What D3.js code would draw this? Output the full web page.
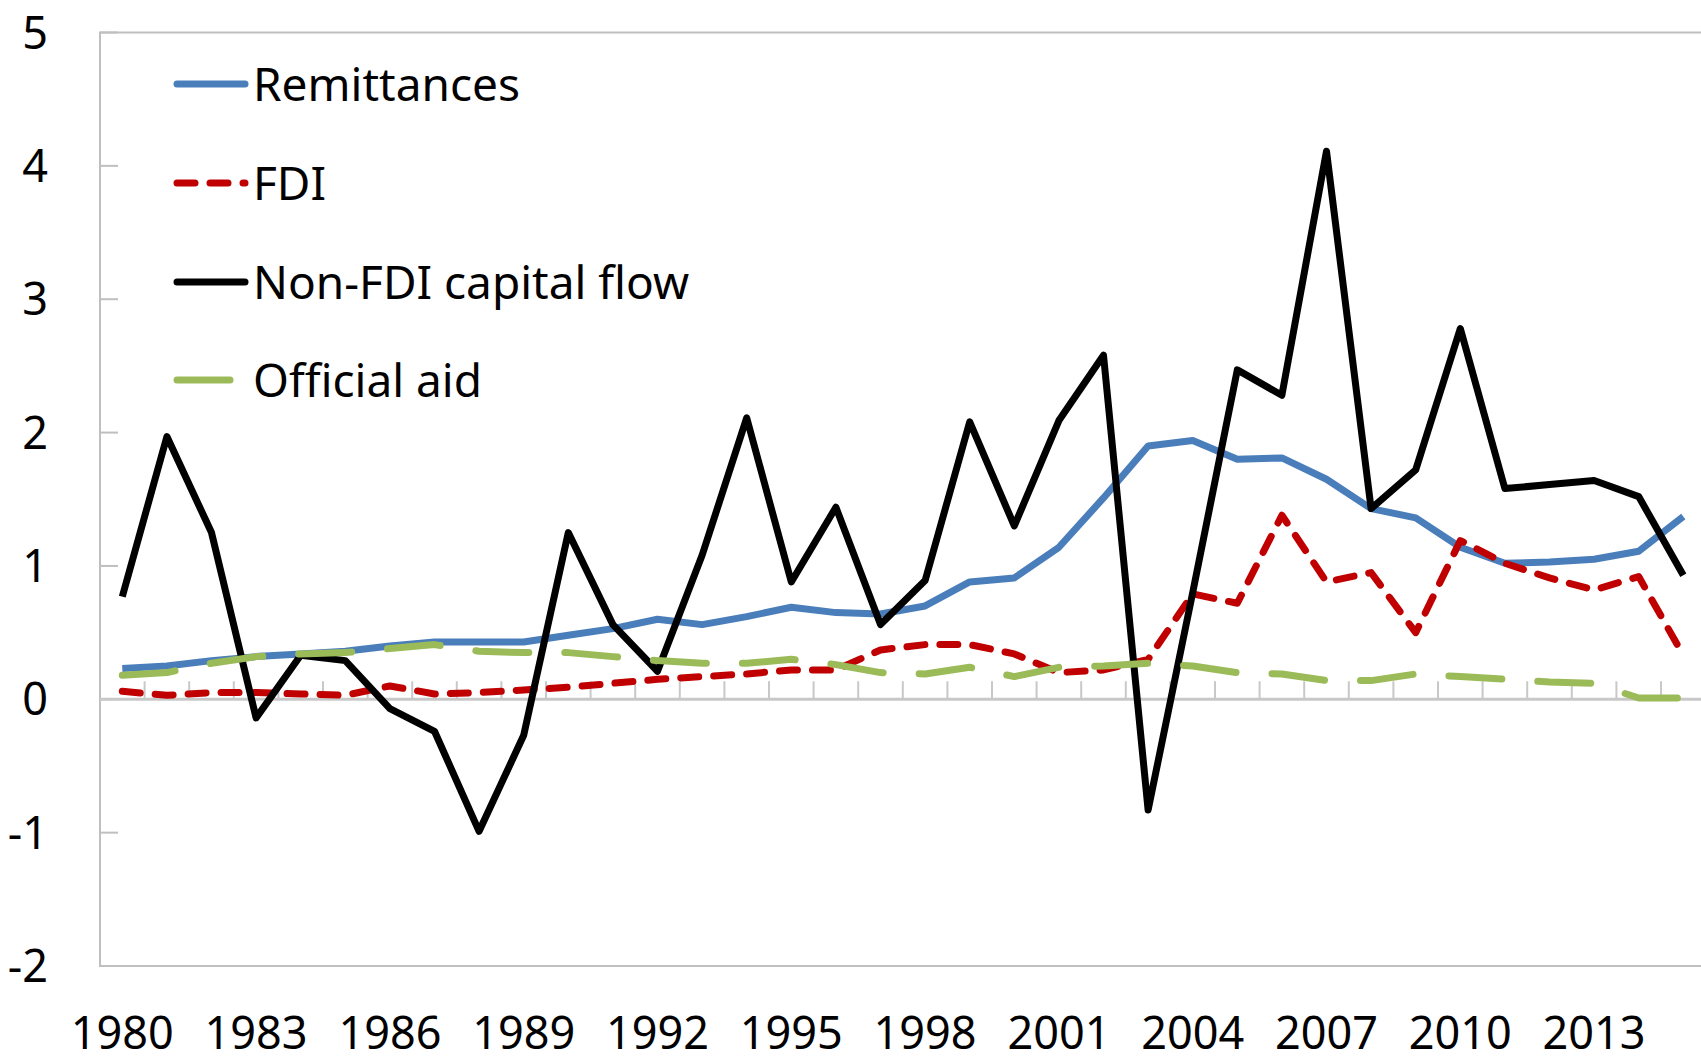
<!DOCTYPE html>
<html>
<head>
<meta charset="utf-8">
<script src="https://cdn.jsdelivr.net/npm/d3@7"></script>
<style>
  body { margin: 0; background: #fff; }
  svg text { font-family: "Noto Sans", sans-serif; fill: #000; }
</style>
</head>
<body>
<div id="chart"></div>
<script>
const years = d3.range(1980, 2016)
const yearLabels = [1980, 1983, 1986, 1989, 1992, 1995, 1998, 2001, 2004, 2007, 2010, 2013]
const yTicks = [-2, -1, 0, 1, 2, 3, 4, 5]

const remittances = [0.23, 0.25, 0.29, 0.32, 0.34, 0.36, 0.40, 0.43, 0.43, 0.43, 0.48, 0.53,
    0.60, 0.56, 0.62, 0.69, 0.65, 0.64, 0.70, 0.88, 0.91, 1.14, 1.51, 1.90,
    1.94, 1.80, 1.81, 1.65, 1.43, 1.36, 1.14, 1.02, 1.03, 1.05, 1.11, 1.37]
const fdi = [0.06, 0.03, 0.05, 0.05, 0.04, 0.03, 0.10, 0.04, 0.05, 0.07, 0.09, 0.12,
    0.15, 0.17, 0.19, 0.22, 0.22, 0.37, 0.41, 0.41, 0.34, 0.20, 0.22, 0.30,
    0.79, 0.72, 1.38, 0.88, 0.95, 0.50, 1.19, 1.02, 0.91, 0.82, 0.92, 0.33]
const nonFdi = [0.77, 1.97, 1.25, -0.14, 0.33, 0.29, -0.07, -0.24, -0.99, -0.27, 1.25, 0.56,
    0.21, 1.08, 2.11, 0.88, 1.44, 0.56, 0.89, 2.08, 1.30, 2.09, 2.58, -0.83,
    0.80, 2.47, 2.28, 4.11, 1.43, 1.72, 2.78, 1.58, 1.61, 1.64, 1.52, 0.93]
const officialAid = [0.18, 0.20, 0.27, 0.32, 0.34, 0.35, 0.38, 0.41, 0.36, 0.35, 0.35, 0.32,
    0.29, 0.27, 0.27, 0.30, 0.26, 0.20, 0.19, 0.24, 0.17, 0.24, 0.25, 0.27,
    0.25, 0.20, 0.19, 0.14, 0.14, 0.19, 0.17, 0.15, 0.13, 0.12, 0.01, 0.01]

const series = [
    { name: "Remittances", values: remittances, color: "#4A7EBB", dash: null },
    { name: "FDI", values: fdi, color: "#C00000", dash: "18,15" },
    { name: "Non-FDI capital flow", values: nonFdi, color: "#000000", dash: null },
    { name: "Official aid", values: officialAid, color: "#9BBB59", dash: "53,36" }
]

const width = 1701
const height = 1061
const plotLeft = 100
const plotTop = 32.5
const plotW = 44.6 * years.length
const plotH = 933.5
const lineW = 7

const svg = d3.select("#chart")
    .append("svg")
    .attr("width", width)
    .attr("height", height)

const x = d3.scaleBand()
    .domain(years)
    .range([plotLeft, plotLeft + plotW])
    .paddingInner(0)
    .paddingOuter(0)

const y = d3.scaleLinear()
    .domain([-2, 5])
    .range([plotTop + plotH, plotTop])

const cx = d => x(d) + x.bandwidth() / 2

// frame of the plot area
svg.append("rect")
    .attr("x", plotLeft)
    .attr("y", plotTop)
    .attr("width", plotW)
    .attr("height", plotH)
    .attr("fill", "none")
    .attr("stroke", "#BFBFBF")
    .attr("stroke-width", 2)

// y ticks, pointing inward
svg.append("g")
    .selectAll("line")
    .data(yTicks)
    .join("line")
    .attr("x1", plotLeft)
    .attr("x2", plotLeft + 18)
    .attr("y1", d => y(d))
    .attr("y2", d => y(d))
    .attr("stroke", "#BFBFBF")
    .attr("stroke-width", 2)

svg.append("g")
    .selectAll("text")
    .data(yTicks)
    .join("text")
    .attr("x", 48)
    .attr("y", d => y(d))
    .attr("dy", "0.36em")
    .attr("text-anchor", "end")
    .style("font-size", "45px")
    .text(d => d)

// horizontal axis at zero, with ticks between the years
const zero = y(0)
svg.append("line")
    .attr("x1", plotLeft)
    .attr("x2", plotLeft + plotW)
    .attr("y1", zero)
    .attr("y2", zero)
    .attr("stroke", "#C8C8C8")
    .attr("stroke-width", 3)

svg.append("g")
    .selectAll("line")
    .data(years.slice(1))
    .join("line")
    .attr("x1", d => x(d))
    .attr("x2", d => x(d))
    .attr("y1", zero)
    .attr("y2", zero - 18)
    .attr("stroke", "#C8C8C8")
    .attr("stroke-width", 2)

svg.append("g")
    .selectAll("text")
    .data(yearLabels)
    .join("text")
    .attr("x", d => cx(d))
    .attr("y", 1049)
    .attr("text-anchor", "middle")
    .style("font-size", "45px")
    .text(d => d)

const line = d3.line()
    .x((d, i) => cx(years[i]))
    .y(d => y(d))

svg.append("g")
    .selectAll("path")
    .data(series)
    .join("path")
    .attr("d", d => line(d.values))
    .attr("fill", "none")
    .attr("stroke", d => d.color)
    .attr("stroke-width", lineW)
    .attr("stroke-dasharray", d => d.dash)
    .attr("stroke-linecap", d => d.dash ? "round" : "butt")
    .attr("stroke-linejoin", "round")

// legend
const legendY = [84, 183, 282, 380]
const legend = svg.append("g")
    .selectAll("g")
    .data(series)
    .join("g")
    .attr("transform", (d, i) => `translate(0,${legendY[i]})`)

legend.append("line")
    .attr("x1", 177)
    .attr("x2", d => d.name == "Official aid" ? 233 : 245)
    .attr("y1", 0)
    .attr("y2", 0)
    .attr("stroke", d => d.color)
    .attr("stroke-width", lineW)
    .attr("stroke-dasharray", d => d.dash)
    .attr("stroke-linecap", "round")

legend.append("text")
    .attr("x", 253)
    .attr("y", 0)
    .attr("dy", "0.36em")
    .style("font-size", "46px")
    .text(d => d.name)
</script>
</body>
</html>
